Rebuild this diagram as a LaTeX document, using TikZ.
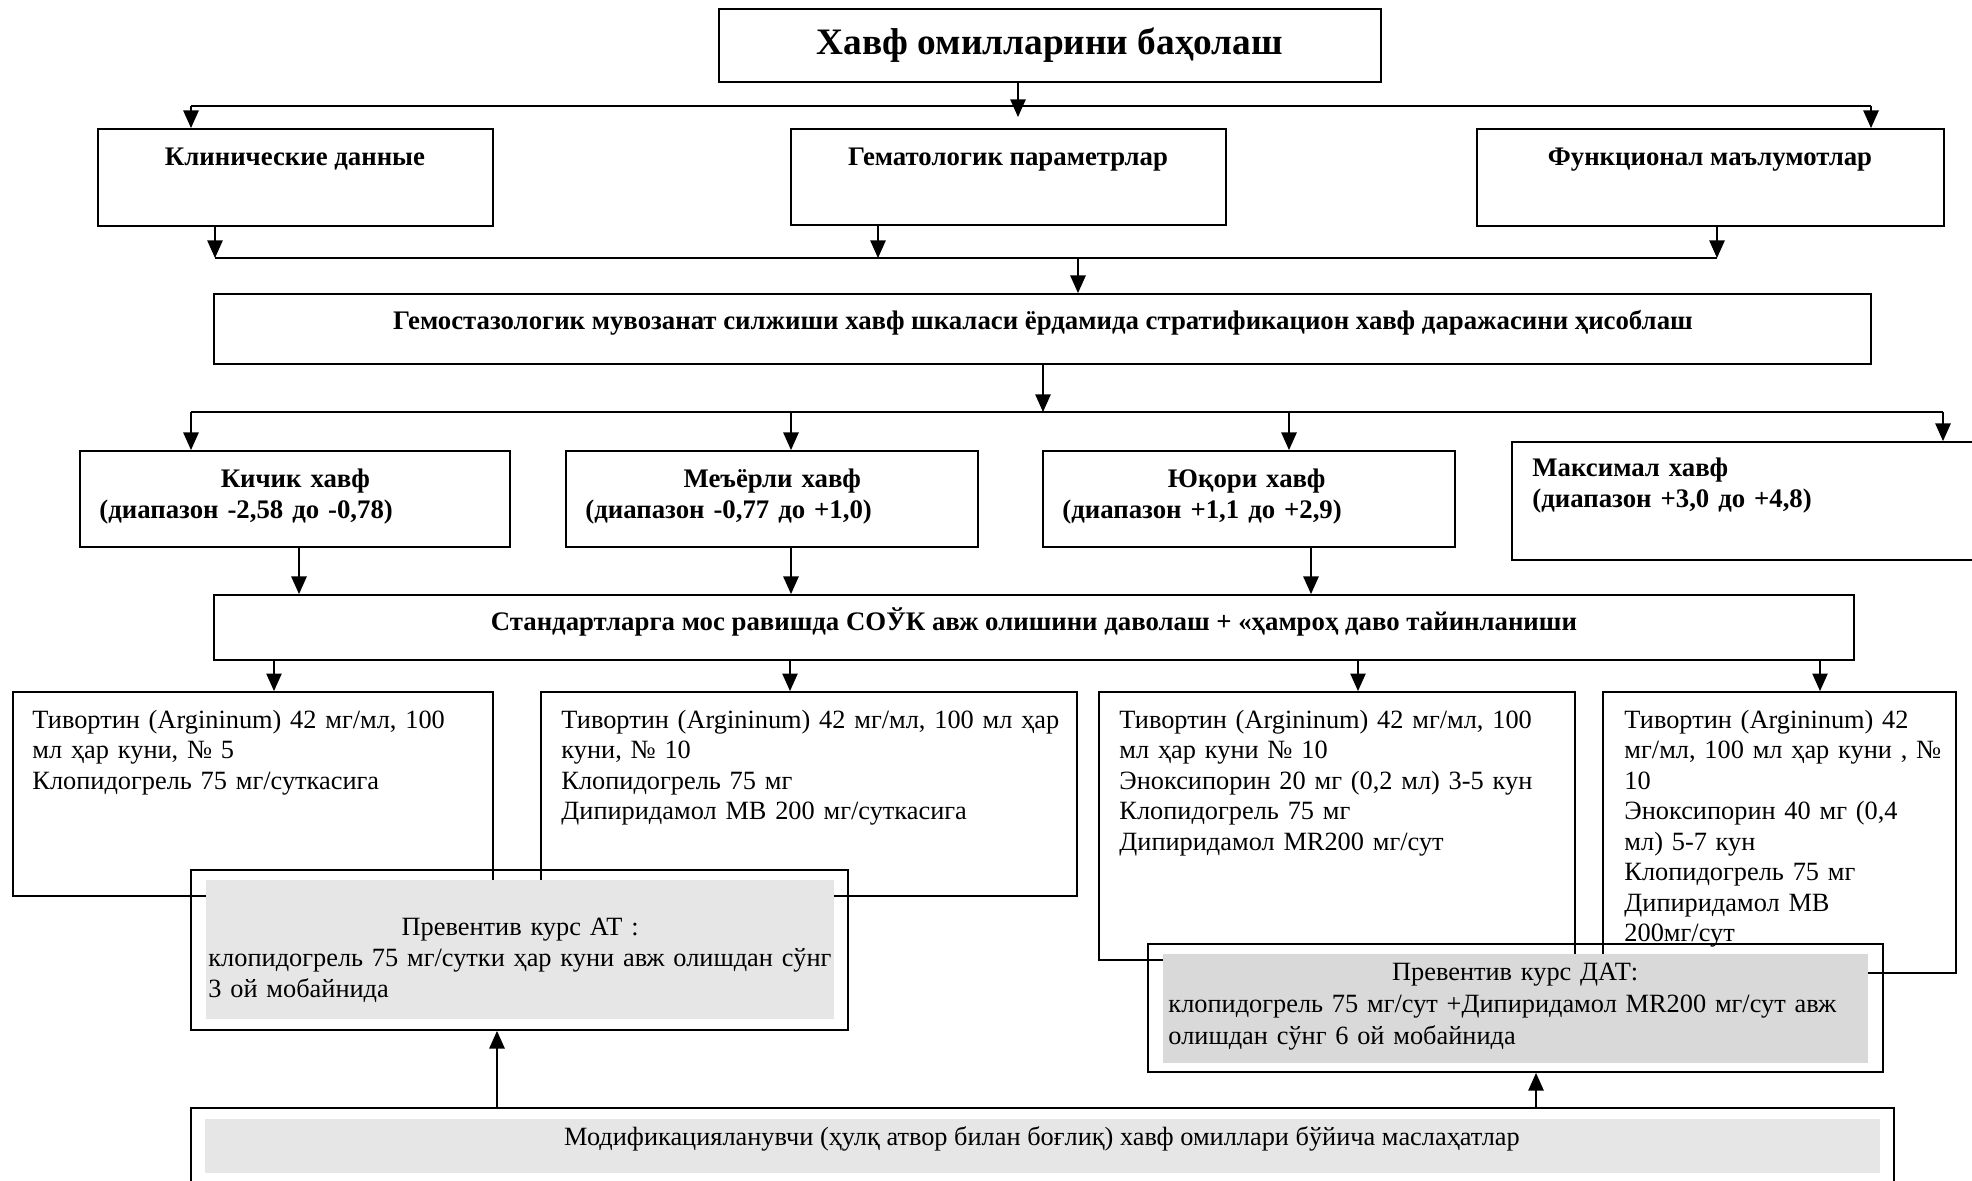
\documentclass[tikz,border=0pt]{standalone}
\usepackage{fontspec}
\setmainfont{Liberation Serif}
\usetikzlibrary{fit,arrows.meta}
\definecolor{lightgrey}{HTML}{E6E6E6}
\definecolor{midgrey}{HTML}{D9D9D9}

\begin{document}
\begin{tikzpicture}[x=0.016cm, y=-0.016cm,
    font=\fontsize{12}{13.9}\selectfont,
    >={Triangle[length=8pt,width=7pt]},
    box/.style={draw, line width=0.85pt, inner sep=0pt},
    inset/.style={fill=#1, inner sep=0pt},
    head/.style={font=\fontsize{12.2}{13.9}\selectfont\bfseries, inner sep=0pt},
    txt/.style={align=left, inner sep=0pt, anchor=base west},
    note/.style={txt, font=\fontsize{12}{14.2}\selectfont},
    arr/.style={->, line width=0.6pt},
    bus/.style={line width=0.6pt}]
    \useasboundingbox (0,0) rectangle (1972,1181);
    \clip (0,0) rectangle (1972,1181);
    \fill[white] (0,0) rectangle (1972,1181);

    % title and data groups
    \node[box, fit={(719,9) (1381,82)}] (title) {};
    \node[anchor=base, inner sep=0pt, font=\fontsize{17}{20}\selectfont\bfseries] (titleT) at (1050,55) {Хавф омилларини баҳолаш};
    \node[box, fit={(98,129) (493,226)}] (clin) {};
    \node[box, fit={(791,129) (1226,225)}] (hema) {};
    \node[box, fit={(1477,129) (1944,226)}] (func) {};
    \node[head, anchor=base] (clinT) at (295,166) {Клинические данные};
    \node[head, anchor=base] (hemaT) at (1008,166) {Гематологик параметрлар};
    \node[head, anchor=base] (funcT) at (1710,166) {Функционал маълумотлар};

    % score
    \node[box, fit={(214,294) (1871,364)}] (gemo) {};
    \node[head, anchor=base] (gemoT) at (1043,330) {Гемостазологик мувозанат силжиши хавф шкаласи ёрдамида стратификацион хавф даражасини ҳисоблаш};

    % risk levels
    \node[box, fit={(80,451) (510,547)}] (kich) {};
    \node[box, fit={(566,451) (978,547)}] (meyor) {};
    \node[box, fit={(1043,451) (1455,547)}] (yuq) {};
    \node[box, fit={(1512,442) (2010,560)}] (maxr) {};
    \node[head, txt, text width=6.27cm] (kichT) at (99,488) {{\centering Кичик хавф\par}(диапазон -2,58 до -0,78)};
    \node[head, txt, text width=5.98cm] (meyorT) at (585,488) {{\centering Меъёрли хавф\par}(диапазон -0,77 до +1,0)};
    \node[head, txt, text width=5.9cm] (yuqT) at (1062,488) {{\centering Юқори хавф\par}(диапазон +1,1 до +2,9)};
    \node[head, txt, text width=6cm] (maxrT) at (1532,477) {Максимал хавф\\(диапазон +3,0 до +4,8)};

    % treatment
    \node[box, fit={(214,595) (1854,660)}] (stand) {};
    \node[head, anchor=base] (standT) at (1034,631) {Стандартларга мос равишда СОЎК авж олишини даволаш + «ҳамроҳ даво тайинланиши};

    \node[box, fit={(13,692) (493,896)}] (t1) {};
    \node[box, fit={(541,692) (1077,896)}] (t2) {};
    \node[box, fit={(1099,692) (1575,960)}] (t3) {};
    \node[box, fit={(1603,692) (1956,973)}] (t4) {};
    \node[txt, text width=7.5cm] (t1T) at (32,728) {Тивортин (Argininum) 42 мг/мл, 100\\мл ҳар куни, № 5\\Клопидогрель 75 мг/суткасига};
    \node[txt, text width=8.3cm] (t2T) at (561,728) {Тивортин (Argininum) 42 мг/мл, 100 мл ҳар\\куни, № 10\\Клопидогрель 75 мг\\Дипиридамол МВ 200 мг/суткасига};
    \node[txt, text width=7.4cm] (t3T) at (1119,728) {Тивортин (Argininum) 42 мг/мл, 100\\мл ҳар куни № 10\\Эноксипорин 20 мг (0,2 мл) 3-5 кун\\Клопидогрель 75 мг\\Дипиридамол MR200 мг/сут};
    \node[txt, text width=5.4cm] (t4T) at (1624,728) {Тивортин (Argininum) 42\\мг/мл, 100 мл ҳар куни , №\\10\\Эноксипорин 40 мг (0,4\\мл) 5-7 кун\\Клопидогрель 75 мг\\Дипиридамол МВ\\200мг/сут};

    % preventive courses
    \node[box, fit={(191,870) (848,1030)}] (at) {};
    \node[inset=lightgrey, fit={(206,880) (834,1019)}] (atin) {};
    \node[note, text width=9.98cm] (atT) at (208,935) {{\centering Превентив курс АТ :\par}клопидогрель 75 мг/сутки ҳар куни авж олишдан сўнг\\3 ой мобайнида};
    \node[box, fit={(1148,944) (1883,1072)}] (dat) {};
    \node[inset=midgrey, fit={(1163,954) (1868,1063)}] (datin) {};
    \node[note, text width=11.1cm, font=\fontsize{12}{14.8}\selectfont] (datT) at (1168,980) {{\centering Превентив курс ДАТ:\par}клопидогрель 75 мг/сут +Дипиридамол MR200 мг/сут авж\\олишдан сўнг 6 ой мобайнида};

    \node[box, fit={(191,1108) (1894,1200)}] (mod) {};
    \node[inset=lightgrey, fit={(205,1119) (1880,1173)}] (modin) {};
    \node[anchor=base, inner sep=0pt] (modT) at (1042,1145) {Модификацияланувчи (ҳулқ атвор билан боғлиқ) хавф омиллари бўйича маслаҳатлар};

    % connectors
    \draw[arr] (1018,0 |- title.south) -- (1018,117);
    \draw[bus] (191,106) -- (1871,106);
    \foreach \n/\x in {clin/191, func/1871}
        \draw[arr] (\x,106) -- (\x,0 |- \n.north);
    \foreach \n/\x in {clin/215, hema/878, func/1717}
        \draw[arr] (\x,0 |- \n.south) -- (\x,258);
    \draw[bus] (215,258) -- (1717,258);
    \draw[arr] (1078,258) -- (1078,0 |- gemo.north);
    \draw[arr] (1043,0 |- gemo.south) -- (1043,412);
    \draw[bus] (191,412) -- (1943,412);
    \foreach \n/\x in {kich/191, meyor/791, yuq/1289, maxr/1943}
        \draw[arr] (\x,412) -- (\x,0 |- \n.north);
    \foreach \n/\x in {kich/299, meyor/791, yuq/1311}
        \draw[arr] (\x,0 |- \n.south) -- (\x,0 |- stand.north);
    \foreach \n/\x in {t1/274, t2/790, t3/1358, t4/1820}
        \draw[arr] (\x,0 |- stand.south) -- (\x,0 |- \n.north);
    \draw[arr] (497,0 |- mod.north) -- (497,0 |- at.south);
    \draw[arr] (1536,0 |- mod.north) -- (1536,0 |- dat.south);
\end{tikzpicture}
\end{document}
